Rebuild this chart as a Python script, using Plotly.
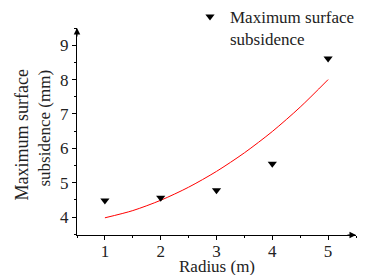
import plotly.graph_objects as go

# Data
radius = [1, 2, 3, 4, 5]
max_subsidence = [4.48, 4.56, 4.78, 5.55, 8.61]

fit_x = [1, 1.5, 2, 2.5, 3, 3.5, 4, 4.5, 5]
fit_y = [3.98, 4.19, 4.49, 4.87, 5.33, 5.87, 6.49, 7.20, 8.0]

x_range = [0.5, 5.5]
y_range = [3.48, 9.5]
x_ticks = [1, 2, 3, 4, 5]
y_ticks = [4, 5, 6, 7, 8, 9]

FONT = "Liberation Serif, Times New Roman, serif"
FS = 17

# page body has an 8px default margin; figure is sized to fit the 365x275 window
W, H = 357, 267
ML, MR, MT, MB = 69, 9, 20, 40
PH = H - MT - MB

fig = go.Figure()

fig.add_trace(go.Scatter(
    x=fit_x, y=fit_y, mode="lines",
    line=dict(color="red", width=1, shape="spline", smoothing=0.8),
    showlegend=False, hoverinfo="skip",
))
fig.add_trace(go.Scatter(
    x=radius, y=max_subsidence, mode="markers",
    marker=dict(symbol="triangle-down", size=8, color="black"),
    name="Maximum surface<br>subsidence",
))

axis_common = dict(
    showline=True, linecolor="black", linewidth=1,
    ticks="outside", ticklen=4, tickwidth=1, tickcolor="black",
    showgrid=False, zeroline=False, automargin=False,
    tickfont=dict(family=FONT, size=FS, color="#222"),
    minor=dict(dtick=0.5, ticks="outside", ticklen=2, tickcolor="black", showgrid=False),
)

fig.update_xaxes(range=x_range, tickvals=x_ticks, tick0=1, dtick=1,
                 ticklabelstandoff=-3, **axis_common)
fig.update_yaxes(range=y_range, tickvals=y_ticks, tick0=4, dtick=1, **axis_common)

title_top = 1 - (68 - 28) / PH
annotations = [
    # axis arrows
    dict(x=x_range[0], y=y_range[1], xref="x", yref="y", ax=0, ay=10, axref="pixel", ayref="pixel",
         showarrow=True, arrowhead=2, arrowsize=1.3, arrowwidth=1, arrowcolor="black", text=""),
    dict(x=x_range[1], y=y_range[0], xref="x", yref="y", ax=-10, ay=0, axref="pixel", ayref="pixel",
         showarrow=True, arrowhead=2, arrowsize=1.3, arrowwidth=1, arrowcolor="black", text=""),
    # y title lines
    dict(text="Maximum surface", xref="paper", yref="paper", x=0, y=title_top,
         xshift=-56, xanchor="center", yanchor="top", textangle=-90, showarrow=False,
         font=dict(family=FONT, size=18, color="#222")),
    dict(text="subsidence (mm)", xref="paper", yref="paper", x=0, y=title_top,
         xshift=-33, xanchor="center", yanchor="top", textangle=-90, showarrow=False,
         font=dict(family=FONT, size=FS, color="#222")),
    # x title
    dict(text="Radius (m)", xref="paper", yref="paper", x=0.5, y=0, yshift=-31,
         xanchor="center", yanchor="middle", showarrow=False,
         font=dict(family=FONT, size=FS, color="#222")),
]

fig.update_layout(
    width=W, height=H,
    margin=dict(l=ML, r=MR, t=MT, b=MB, autoexpand=False),
    paper_bgcolor="white", plot_bgcolor="white",
    font=dict(family=FONT, size=FS, color="#222"),
    annotations=annotations,
    legend=dict(x=(190 - 77) / 279, y=1 + 29 / PH, xanchor="left", yanchor="top",
                bgcolor="rgba(0,0,0,0)", font=dict(family=FONT, size=FS, color="#222"),
                valign="top", tracegroupgap=0),
)

fig.write_html("out.html")
